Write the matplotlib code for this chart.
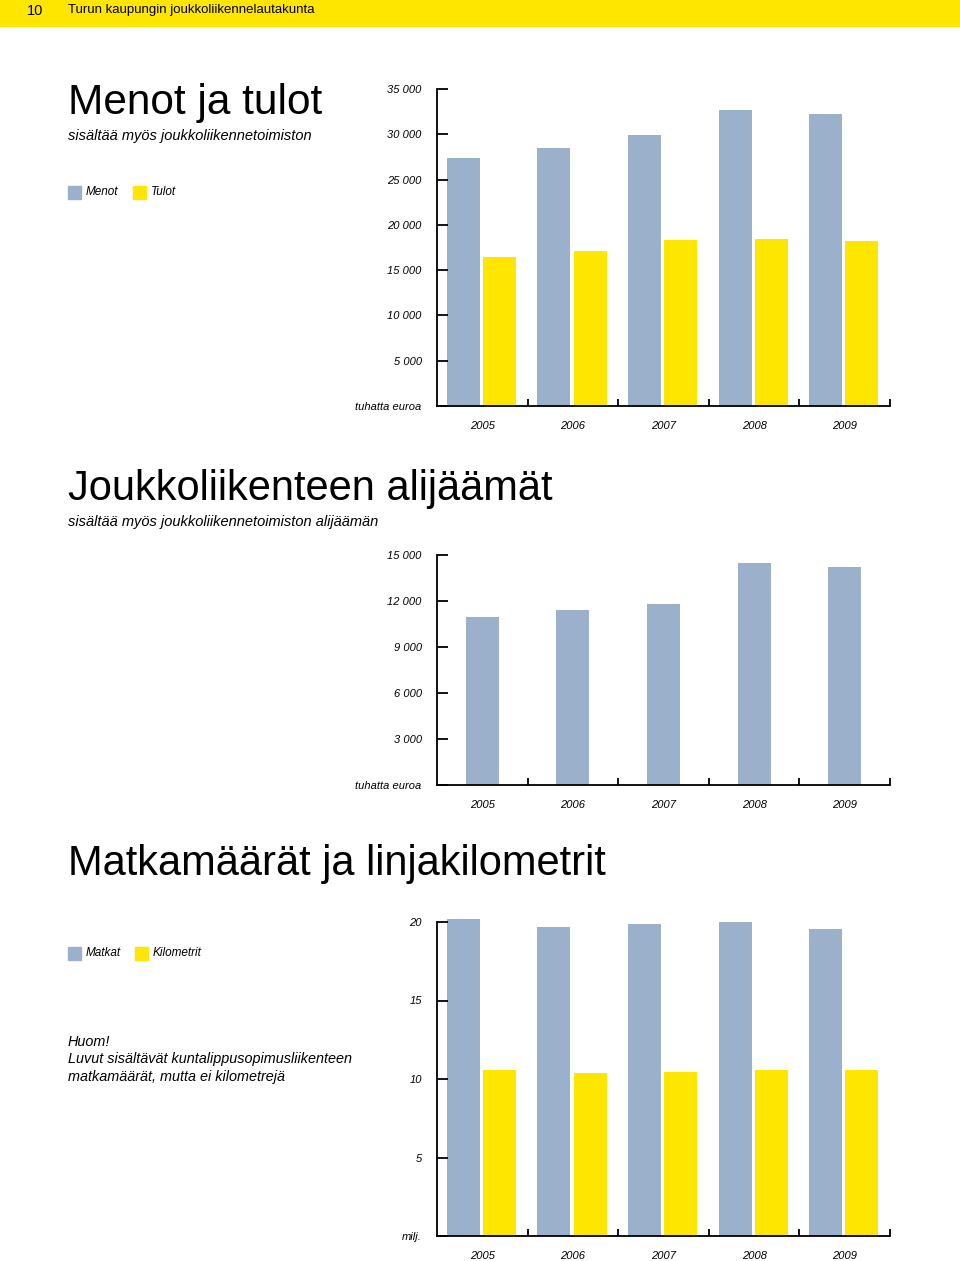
import matplotlib
matplotlib.use("Agg")
import matplotlib.pyplot as plt
from matplotlib.patches import Rectangle

plt.rcParams['font.family'] = ['Liberation Sans', 'DejaVu Sans']

# data
years = ['2005', '2006', '2007', '2008', '2009']
menot = [27400, 28500, 29900, 32700, 32200]
tulot = [16400, 17100, 18300, 18400, 18200]
alijaama = [10950, 11400, 11800, 14500, 14250]
matkat = [20.2, 19.7, 19.9, 20.0, 19.55]
kilometrit = [10.6, 10.4, 10.45, 10.6, 10.6]

ticks1 = [0, 5000, 10000, 15000, 20000, 25000, 30000, 35000]
labels1 = ['tuhatta euroa', '5 000', '10 000', '15 000', '20 000', '25 000', '30 000', '35 000']
ticks2 = [0, 3000, 6000, 9000, 12000, 15000]
labels2 = ['tuhatta euroa', '3 000', '6 000', '9 000', '12 000', '15 000']
ticks3 = [0, 5, 10, 15, 20]
labels3 = ['milj.', '5', '10', '15', '20']

BLUE = '#9bb0cb'
YELLOW = '#ffe600'
W, H = 960, 1261

fig = plt.figure(figsize=(W / 100, H / 100), dpi=100)


def px_axes(x0, y0, x1, y1):
    # pixel box (top-left origin) -> figure fraction
    return fig.add_axes([x0 / W, 1 - y1 / H, (x1 - x0) / W, (y1 - y0) / H])


def style_axes(ax, ticks, labels, top):
    ax.set_xlim(-0.5, 4.5)
    ax.set_ylim(0, top)
    for s in ['top', 'right']:
        ax.spines[s].set_visible(False)
    for s in ['left', 'bottom']:
        ax.spines[s].set_linewidth(1.3)
    ax.set_yticks(ticks)
    ax.set_yticklabels(labels, fontsize=8, style='italic')
    ax.tick_params(axis='y', direction='in', length=8, width=1.3, pad=11)
    ax.set_xticks([0.5, 1.5, 2.5, 3.5, 4.5])
    ax.set_xticklabels([])
    ax.tick_params(axis='x', which='major', direction='in', length=5, width=1.3)
    ax.set_xticks(range(5), minor=True)
    ax.set_xticklabels(years, minor=True, fontsize=8, style='italic')
    ax.tick_params(axis='x', which='minor', length=0, pad=10.5)


# header band
fig.patches.append(Rectangle((0, 1 - 26 / H), 1, 26 / H, transform=fig.transFigure,
                             color=YELLOW, zorder=0))
fig.text(27 / W, 1 - 11 / H, '10', fontsize=10.5, va='center')
fig.text(68 / W, 1 - 10 / H, 'Turun kaupungin joukkoliikennelautakunta', fontsize=9.5, va='center')

bw = 0.365
x = range(5)

# chart 1
fig.text(68 / W, 1 - 103 / H, 'Menot ja tulot', fontsize=30.5, va='center')
fig.text(68 / W, 1 - 136 / H, 'sisältää myös joukkoliikennetoimiston', fontsize=10.5,
         style='italic', va='center')
ax1 = px_axes(437, 89, 890, 406)
ax1.bar([i - 0.21 for i in x], menot, width=bw, color=BLUE)
ax1.bar([i + 0.19 for i in x], tulot, width=bw, color=YELLOW)
style_axes(ax1, ticks1, labels1, 35000)

# chart 2
fig.text(68 / W, 1 - 489 / H, 'Joukkoliikenteen alijäämät', fontsize=30, va='center')
fig.text(68 / W, 1 - 522 / H, 'sisältää myös joukkoliikennetoimiston alijäämän', fontsize=10.5,
         style='italic', va='center')
ax2 = px_axes(437, 555, 890, 785)
ax2.bar(list(x), alijaama, width=bw, color=BLUE, clip_on=False)
style_axes(ax2, ticks2, labels2, 15000)

# chart 3
fig.text(68 / W, 1 - 864 / H, 'Matkamäärät ja linjakilometrit', fontsize=30, va='center')
ax3 = px_axes(437, 922, 890, 1236)
ax3.bar([i - 0.21 for i in x], matkat, width=bw, color=BLUE, clip_on=False)
ax3.bar([i + 0.19 for i in x], kilometrit, width=bw, color=YELLOW)
style_axes(ax3, ticks3, labels3, 20)


# legends
def legend(y, items):
    for (xs, xt, label, color) in items:
        fig.patches.append(Rectangle((xs / W, 1 - (y + 6.5) / H), 13 / W, 13 / H,
                                     transform=fig.transFigure, color=color))
        fig.text(xt / W, 1 - y / H, label, fontsize=8.5, style='italic', va='center')


legend(192, [(68, 86, 'Menot', BLUE), (133, 151, 'Tulot', YELLOW)])
legend(953, [(68, 86, 'Matkat', BLUE), (135, 153, 'Kilometrit', YELLOW)])

# note
note = ['Huom!', 'Luvut sisältävät kuntalippusopimusliikenteen', 'matkamäärät, mutta ei kilometrejä']
for i, line in enumerate(note):
    fig.text(68 / W, 1 - (1042 + 17.5 * i) / H, line, fontsize=10.4, style='italic', va='center')

fig.savefig('out.png', dpi=100)
